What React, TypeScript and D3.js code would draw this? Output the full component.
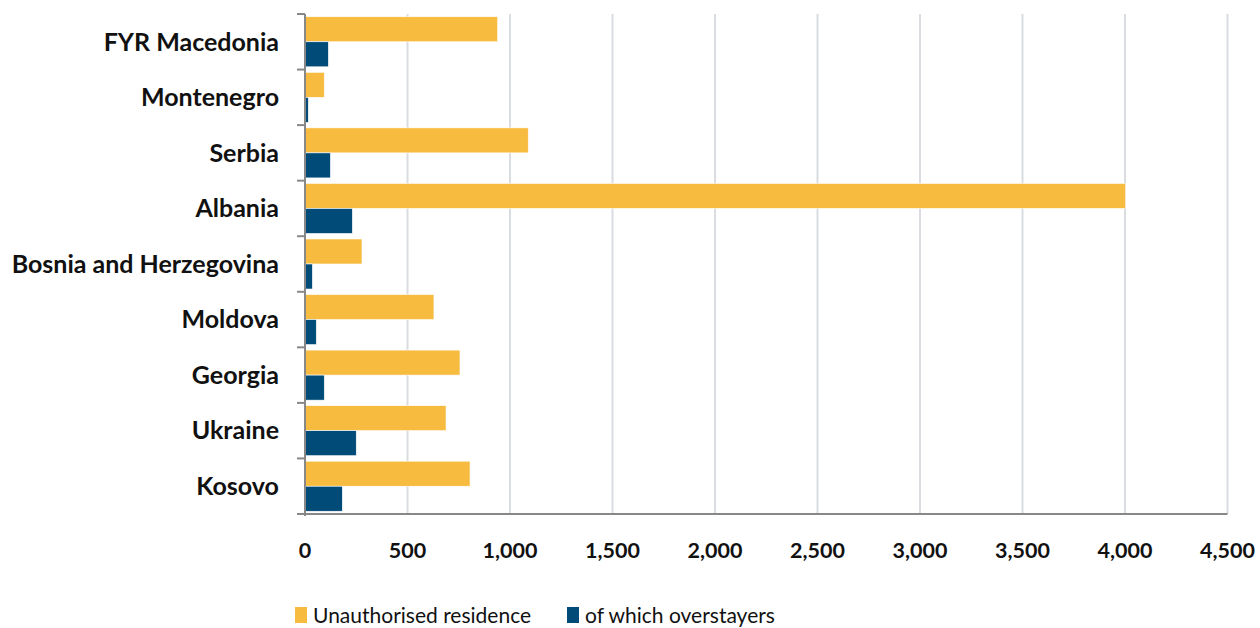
import React from "react";
import * as d3 from "d3";

const categories = ["FYR Macedonia", "Montenegro", "Serbia", "Albania", "Bosnia and Herzegovina", "Moldova", "Georgia", "Ukraine", "Kosovo"];
const unauthorised = [940, 94, 1089, 4003, 278, 629, 756, 688, 805];
const overstayers = [114, 16, 124, 231, 36, 55, 94, 250, 182];
const seriesNames = ["Unauthorised residence", "of which overstayers"];
const seriesColors = ["#F7BB3F", "#004B78"];
const xTicks = [0, 500, 1000, 1500, 2000, 2500, 3000, 3500, 4000, 4500];

const W = 1260, H = 628;
const m = { left: 305, right: 1227.5, top: 14, bottom: 514 };
const FONT = "Lato, 'Open Sans', sans-serif";

export default function App() {
  const x = d3.scaleLinear().domain([0, 4500]).range([m.left, m.right]);
  const y = d3.scaleBand().domain(categories).range([m.top, m.bottom]).paddingInner(0).paddingOuter(0);
  const inner = d3.scaleBand().domain(["0", "1"]).range([0, y.bandwidth()]).paddingOuter(0.11).paddingInner(0);
  const fmt = d3.format(",");
  const series = [unauthorised, overstayers];
  const bounds = [...categories.map((c) => y(c)!), m.bottom];
  return (
    <svg width={W} height={H} style={{ position: "absolute", left: 0, top: 0 }} fontFamily={FONT}>
      {xTicks.slice(1).map((t) => (
        <line key={t} x1={x(t)} x2={x(t)} y1={m.top} y2={m.bottom} stroke="#D9DCE0" strokeWidth={2} />
      ))}
      {series.map((vals, si) =>
        categories.map((c, i) => (
          <rect key={si + c} x={x(0)} y={y(c)! + inner(String(si))!} width={x(vals[i]) - x(0)} height={inner.bandwidth()} fill={seriesColors[si]} stroke="#fff" strokeWidth={0.6} />
        ))
      )}
      <line x1={m.left} x2={m.left} y1={m.top} y2={m.bottom + 2} stroke="#888" strokeWidth={2} />
      <line x1={m.left - 8} x2={m.right} y1={m.bottom} y2={m.bottom} stroke="#888" strokeWidth={2} />
      {bounds.map((b, i) => (
        <line key={i} x1={m.left - 8} x2={m.left} y1={b} y2={b} stroke="#888" strokeWidth={2} />
      ))}
      {categories.map((c) => (
        <text key={c} x={279} y={y(c)! + y.bandwidth() / 2} dy="0.35em" textAnchor="end" fontWeight="bold" fontSize={25} fill="#111">
          {c}
        </text>
      ))}
      {xTicks.map((t) => (
        <text key={t} x={x(t)} y={550} dy="0.35em" textAnchor="middle" fontWeight="bold" fontSize={21.5} fill="#111">
          {fmt(t)}
        </text>
      ))}
      {seriesNames.map((n, i) => {
        const lx = [295, 567][i];
        return (
          <g key={n}>
            <rect x={lx} y={607} width={12} height={16} fill={seriesColors[i]} />
            <text x={lx + 18} y={623} fontSize={21} fill="#111">{n}</text>
          </g>
        );
      })}
    </svg>
  );
}
